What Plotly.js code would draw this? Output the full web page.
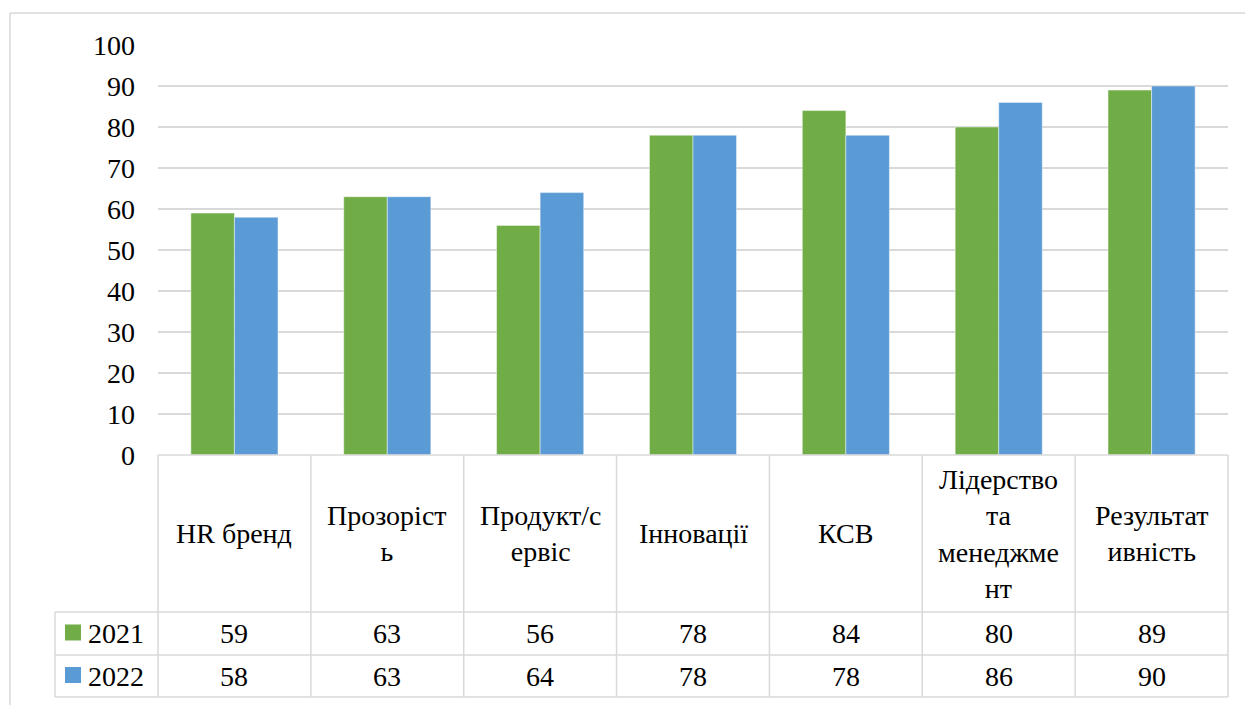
<!DOCTYPE html>
<html>
<head>
<meta charset="utf-8">
<script src="https://cdn.plot.ly/plotly-3.0.1.min.js"></script>
<style>html,body{margin:0;padding:0;background:#fff;}#chart{width:1245px;height:705px;}
#chart svg text{font-family:'Liberation Serif','Times New Roman',serif !important;}
</style>
</head>
<body>
<div id="chart"></div>
<script>
const categories = ["HR бренд", "Прозорість", "Продукт/сервіс", "Інновації", "КСВ", "Лідерство та менеджмент", "Результативність"];
const headerLabels = ["HR бренд", "Прозоріст<br>ь", "Продукт/с<br>ервіс", "Інновації", "КСВ", "Лідерство<br>та<br>менеджме<br>нт", "Результат<br>ивність"];
const seriesNames = ["2021", "2022"];
const values2021 = [59, 63, 56, 78, 84, 80, 89];
const values2022 = [58, 63, 64, 78, 78, 86, 90];
const colors = ["#70AD47", "#5B9BD5"];
const yTicks = [0, 10, 20, 30, 40, 50, 60, 70, 80, 90, 100];

const W = 1245, H = 705;
const L = 158, R = 1228, T = 45, B = 455;
const px = x => (x - L) / (R - L);
const py = y => (B - y) / (B - T);
const FONT = "Liberation Serif";
const GRID = "#d9d9d9";

const allSeries = [values2021, values2022];
const traces = allSeries.map((vals, i) => ({
  type: "bar",
  name: seriesNames[i],
  x: categories,
  y: vals,
  marker: {color: colors[i], line: {color: "rgba(255,255,255,0.45)", width: 1}},
  hoverinfo: "skip"
}));

const shapes = [];
const line = (x0, y0, x1, y1) => shapes.push({type: "line", xref: "paper", yref: "paper",
  x0: px(x0), y0: py(y0), x1: px(x1), y1: py(y1), line: {color: GRID, width: 1.5}});
line(10, 13, 10, 720);
line(10, 13, 1260, 13);
const rowTop = 455, rowHead = 612, row1 = 655, row2 = 697, legLeft = 55;
line(L, rowTop, R, rowTop);
line(legLeft, rowHead, R, rowHead);
line(legLeft, row1, R, row1);
line(legLeft, row2, R, row2);
line(legLeft, rowHead, legLeft, row2);
const n = categories.length;
for (let i = 0; i <= n; i++) {
  const xx = L + (R - L) * i / n;
  line(xx, rowTop, xx, row2);
}
const rowCenters = [(rowHead + row1) / 2, (row1 + row2) / 2];
rowCenters.forEach((c, i) => {
  shapes.push({type: "rect", xref: "paper", yref: "paper",
    x0: px(65), x1: px(81), y0: py(c - 9), y1: py(c + 7),
    fillcolor: colors[i], line: {width: 0}});
});

const annotations = [];
categories.forEach((c, i) => {
  annotations.push({xref: "x", yref: "paper", x: c, y: py((rowTop + rowHead) / 2),
    text: headerLabels[i], showarrow: false, xanchor: "center", yanchor: "middle",
    align: "center", font: {family: FONT, size: 28, color: "#000"}});
  allSeries.forEach((vals, s) => {
    annotations.push({xref: "x", yref: "paper", x: c, y: py(rowCenters[s]),
      text: String(vals[i]), showarrow: false, xanchor: "center", yanchor: "middle",
      font: {family: FONT, size: 28, color: "#000"}});
  });
});
seriesNames.forEach((s, i) => {
  annotations.push({xref: "paper", yref: "paper", x: px(86), y: py(rowCenters[i]),
    text: s, showarrow: false, xanchor: "left", yanchor: "middle",
    font: {family: FONT, size: 28, color: "#000"}});
});

const layout = {
  width: W, height: H,
  margin: {l: L, r: W - R, t: T, b: H - B, pad: 0},
  paper_bgcolor: "#fff", plot_bgcolor: "#fff",
  showlegend: false,
  barmode: "group",
  bargap: 0.43,
  bargroupgap: 0,
  font: {family: FONT, size: 28, color: "#000"},
  xaxis: {type: "category", range: [-0.5, n - 0.5], showticklabels: false, showgrid: false,
    zeroline: false, showline: false, ticks: "", fixedrange: true},
  yaxis: {range: [0, 100], tickvals: yTicks, ticktext: yTicks.map(String), showgrid: true,
    gridcolor: GRID, gridwidth: 1.5, zeroline: false, showline: false, ticks: "",
    ticklabelstandoff: 22, tickfont: {family: FONT, size: 28, color: "#000"}, fixedrange: true},
  shapes: shapes,
  annotations: annotations
};

function applySerif() {
  document.querySelectorAll("#chart text, #chart tspan").forEach(el => {
    el.style.setProperty("font-family", "'Liberation Serif', 'Times New Roman', serif", "important");
    el.setAttribute("font-family", "Liberation Serif");
  });
}
Plotly.newPlot("chart", traces, layout, {displayModeBar: false, staticPlot: true}).then(gd => {
  applySerif();
  gd.on && gd.on("plotly_afterplot", applySerif);
});
</script>
</body>
</html>
